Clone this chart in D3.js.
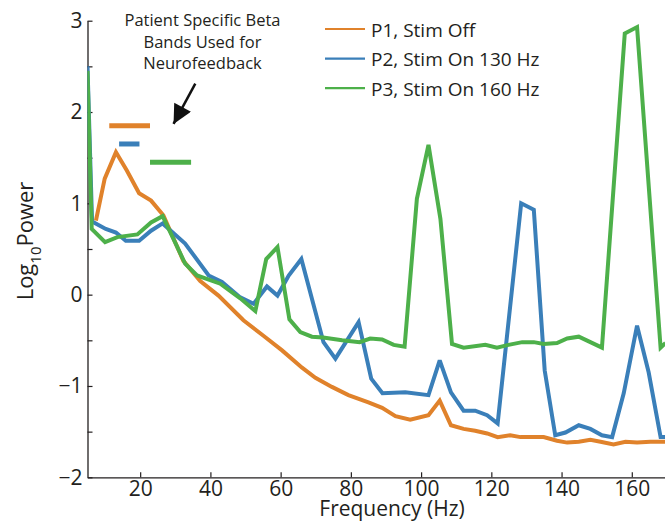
<!DOCTYPE html>
<html>
<head>
<meta charset="utf-8">
<script src="https://cdn.jsdelivr.net/npm/d3@7"></script>
<style>
  body { margin: 0; background: #fff; }
  svg { display: block; font-family: "Open Sans", sans-serif; }
</style>
</head>
<body>
<div id="chart"></div>
<script>
// Series (frequency in Hz, log10 power)
const p1Freq  = [7.4, 9.9, 13.1, 16.2, 19.7, 23.1, 26.6, 32.3, 37.1, 42.3, 49.4, 55.1, 60.4, 66.1, 69.9, 74.6, 79.3, 85.0, 88.9, 92.7, 96.9, 102.1, 105.3, 108.5, 112.1, 115.4, 118.8, 121.8, 125.4, 128.3, 134.9, 138.7, 141.6, 144.9, 148.2, 151.1, 154.8, 158.2, 161.5, 165.3, 169.6];
const p1Power = [0.81, 1.27, 1.56, 1.36, 1.11, 1.03, 0.87, 0.37, 0.15, -0.01, -0.28, -0.45, -0.61, -0.80, -0.91, -1.01, -1.10, -1.18, -1.24, -1.33, -1.37, -1.32, -1.16, -1.43, -1.47, -1.49, -1.52, -1.56, -1.54, -1.56, -1.56, -1.60, -1.62, -1.61, -1.59, -1.61, -1.64, -1.61, -1.62, -1.61, -1.61];

const p2Freq  = [5.0, 6.3, 10.2, 13.1, 15.9, 19.7, 23.1, 26.4, 32.8, 39.5, 43.3, 48.5, 52.3, 56.1, 59.1, 62.3, 65.9, 72.2, 75.6, 82.2, 85.8, 89.0, 95.5, 102.1, 105.3, 108.5, 112.1, 115.4, 118.8, 121.8, 128.5, 132.1, 135.2, 138.2, 141.1, 144.9, 148.2, 151.5, 154.4, 157.7, 161.5, 164.8, 168.2, 169.6];
const p2Power = [2.50, 0.80, 0.72, 0.68, 0.59, 0.59, 0.70, 0.78, 0.56, 0.21, 0.14, -0.03, -0.10, 0.09, -0.01, 0.21, 0.39, -0.52, -0.70, -0.30, -0.92, -1.08, -1.07, -1.10, -0.72, -1.07, -1.27, -1.27, -1.32, -1.41, 1.00, 0.93, -0.83, -1.54, -1.51, -1.43, -1.47, -1.54, -1.56, -1.08, -0.34, -0.85, -1.56, -1.56];

const p3Freq  = [5.0, 6.2, 10.0, 13.5, 19.2, 23.1, 26.4, 32.8, 36.2, 42.8, 48.5, 52.8, 55.9, 59.1, 62.5, 65.6, 68.9, 72.1, 77.5, 82.5, 85.5, 88.9, 92.2, 95.3, 98.8, 102.1, 105.5, 108.8, 112.1, 118.3, 121.6, 124.9, 128.8, 132.1, 134.9, 138.7, 141.6, 144.9, 151.5, 158.0, 161.5, 168.2, 169.6];
const p3Power = [2.45, 0.72, 0.575, 0.63, 0.66, 0.79, 0.86, 0.34, 0.21, 0.12, -0.04, -0.18, 0.39, 0.52, -0.27, -0.41, -0.46, -0.47, -0.50, -0.52, -0.48, -0.49, -0.55, -0.57, 1.05, 1.64, 0.83, -0.54, -0.58, -0.55, -0.58, -0.55, -0.52, -0.52, -0.54, -0.53, -0.48, -0.46, -0.58, 2.86, 2.93, -0.58, -0.53];

const seriesNames  = ["P1, Stim Off", "P2, Stim On 130 Hz", "P3, Stim On 160 Hz"];
const seriesColors = ["#e0822b", "#3a7fb9", "#4db04a"];

// Patient specific beta bands (Hz) and the level they are drawn at
const bandLow   = [11.2, 14.0, 22.8];
const bandHigh  = [22.8, 19.8, 34.5];
const bandLevel = [1.85, 1.65, 1.45];

const xTicks = [20, 40, 60, 80, 100, 120, 140, 160];
const yTicks = [-2, -1.5, -1, -0.5, 0, 0.5, 1, 1.5, 2, 2.5, 3];
const noteLines = ["Patient Specific Beta", "Bands Used for", "Neurofeedback"];

const width = 665, height = 523;
const textColor = "#231f20";

const svg = d3.select("#chart").append("svg")
    .attr("width", width)
    .attr("height", height);

// Scales (axis runs past the right edge of the picture)
const x = d3.scaleLinear().domain([5, 178]).range([87.5, 695]);
const y = d3.scaleLinear().domain([-2, 3]).range([477.3, 20.7]);

svg.append("defs").append("clipPath")
    .attr("id", "plot-clip")
    .append("rect")
    .attr("x", x(5))
    .attr("y", 0)
    .attr("width", width - x(5))
    .attr("height", y(-2));

// Axes, ticks pointing inward
const xAxis = svg.append("g")
    .attr("transform", `translate(0,${y(-2)})`)
    .call(d3.axisBottom(x)
        .tickValues(xTicks)
        .tickSizeInner(-5)
        .tickSizeOuter(0)
        .tickPadding(4)
        .tickFormat(d3.format("d")));

const yAxis = svg.append("g")
    .attr("transform", `translate(${x(5)},0)`)
    .call(d3.axisLeft(y)
        .tickValues(yTicks)
        .tickSizeInner(-5)
        .tickSizeOuter(0)
        .tickPadding(5)
        .tickFormat(d => Number.isInteger(d) ? d3.format("d")(d) : ""));

[xAxis, yAxis].forEach(g => {
    g.select(".domain").attr("stroke", textColor).attr("stroke-width", 1.3);
    g.selectAll(".tick line").attr("stroke", textColor).attr("stroke-width", 1.2);
    g.selectAll(".tick text")
        .attr("fill", textColor)
        .style("font-size", "21px")
        .style("font-family", "'Open Sans', sans-serif");
});

// Axis titles
svg.append("text")
    .attr("x", 392)
    .attr("y", 516)
    .attr("text-anchor", "middle")
    .attr("fill", textColor)
    .style("font-size", "21px")
    .text("Frequency (Hz)");

const yLabel = svg.append("text")
    .attr("transform", "rotate(-90)")
    .attr("x", -241)
    .attr("y", 33)
    .attr("text-anchor", "middle")
    .attr("fill", textColor)
    .style("font-size", "22px");
yLabel.append("tspan").text("Log");
yLabel.append("tspan").attr("dy", 8).style("font-size", "15px").text("10");
yLabel.append("tspan").attr("dy", -8).text("Power");

// Lines
const line = d3.line()
    .x(d => x(d[0]))
    .y(d => y(d[1]));

const series = [
    d3.zip(p1Freq, p1Power),
    d3.zip(p2Freq, p2Power),
    d3.zip(p3Freq, p3Power)
];

svg.append("g")
    .attr("clip-path", "url(#plot-clip)")
    .selectAll(".series")
    .data(series)
    .join("path")
    .attr("class", "series")
    .attr("d", line)
    .attr("fill", "none")
    .attr("stroke", (d, i) => seriesColors[i])
    .attr("stroke-width", 4)
    .attr("stroke-linejoin", "miter")
    .attr("stroke-miterlimit", 3);

// Beta band bars
svg.selectAll(".band")
    .data(bandLow)
    .join("line")
    .attr("class", "band")
    .attr("x1", (d, i) => x(bandLow[i]))
    .attr("x2", (d, i) => x(bandHigh[i]))
    .attr("y1", (d, i) => y(bandLevel[i]))
    .attr("y2", (d, i) => y(bandLevel[i]))
    .attr("stroke", (d, i) => seriesColors[i])
    .attr("stroke-width", 5);

// Annotation text and arrow
svg.append("text")
    .attr("x", 202.5)
    .attr("y", 26)
    .attr("text-anchor", "middle")
    .attr("fill", textColor)
    .style("font-size", "16.5px")
    .selectAll("tspan")
    .data(noteLines)
    .join("tspan")
    .attr("x", 202.5)
    .attr("dy", (d, i) => i === 0 ? 0 : 21.7)
    .text(d => d);

svg.append("defs").append("marker")
    .attr("id", "arrow-head")
    .attr("viewBox", "0 0 10 10")
    .attr("refX", 10)
    .attr("refY", 5)
    .attr("markerUnits", "userSpaceOnUse")
    .attr("markerWidth", 20)
    .attr("markerHeight", 19)
    .attr("orient", "auto")
    .append("path")
    .attr("d", "M0,0 L10,5 L0,10 Z")
    .attr("fill", "#111");

svg.append("line")
    .attr("x1", x(35.7))
    .attr("y1", y(2.31))
    .attr("x2", x(29.5))
    .attr("y2", y(1.87))
    .attr("stroke", "#111")
    .attr("stroke-width", 2.5)
    .attr("marker-end", "url(#arrow-head)");

// Legend
const legend = svg.append("g");
seriesNames.forEach((name, i) => {
    const ly = 29 + i * 29.6;
    legend.append("line")
        .attr("x1", 325)
        .attr("x2", 365)
        .attr("y1", ly)
        .attr("y2", ly)
        .attr("stroke", seriesColors[i])
        .attr("stroke-width", 2.2);
    legend.append("text")
        .attr("x", 371)
        .attr("y", ly + 7.5)
        .attr("fill", textColor)
        .style("font-size", "19px")
        .text(name);
});
</script>
</body>
</html>
